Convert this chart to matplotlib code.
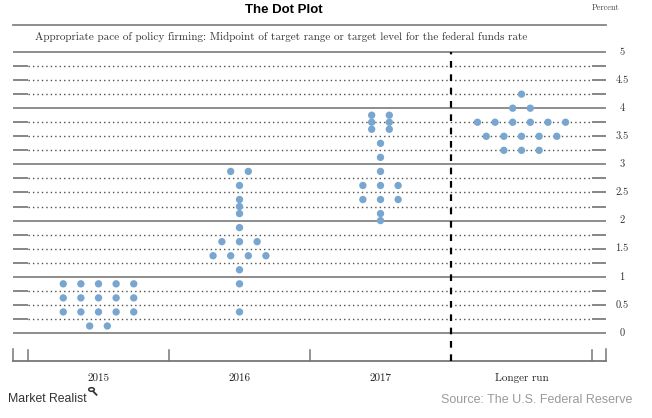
import matplotlib
matplotlib.use("Agg")
import matplotlib.pyplot as plt
import numpy as np

# ---------------- data ----------------
categories = ["2015", "2016", "2017", "Longer run"]

rates_2015 = [0.125, 0.375, 0.625, 0.875]
counts_2015 = [2, 5, 5, 5]

rates_2016 = [0.375, 0.875, 1.125, 1.375, 1.625, 1.875, 2.125, 2.25, 2.375, 2.625, 2.875]
counts_2016 = [1, 1, 1, 4, 3, 1, 1, 1, 1, 1, 2]

rates_2017 = [2.0, 2.125, 2.375, 2.625, 2.875, 3.125, 3.375, 3.625, 3.75, 3.875]
counts_2017 = [1, 1, 3, 3, 1, 1, 1, 2, 2, 2]

rates_lr = [3.25, 3.5, 3.75, 4.0, 4.25]
counts_lr = [3, 5, 6, 2, 1]

ytick_values = [0, 0.5, 1, 1.5, 2, 2.5, 3, 3.5, 4, 4.5, 5]
ytick_labels = ["0", "0.5", "1", "1.5", "2", "2.5", "3", "3.5", "4", "4.5", "5"]

title = "The Dot Plot"
subtitle = ("Appropriate pace of policy firming: Midpoint of target range "
            "or target level for the federal funds rate")
unit_label = "Percent"
source = "Source: The U.S. Federal Reserve"
brand = "Market Realist"

# ---------------- figure ----------------
W, H = 652, 418
fig = plt.figure(figsize=(W / 100, H / 100), dpi=100)
fig.patch.set_facecolor("white")

ax = fig.add_axes([13 / W, 57 / H, 593 / W, 336 / H])
x0, x1 = -0.6064, 3.5993
y0, y1 = -0.498, 5.480
ax.set_xlim(x0, x1)
ax.set_ylim(y0, y1)
ax.axis("off")

serif = "cmr10"
solid_c = "#858585"
dot_line_c = "#505050"
dot_c = "#78a6d0"

# solid integer lines
for v in range(0, 6):
    ax.plot([x0, x1], [v, v], color=solid_c, lw=1.3, clip_on=False,
            solid_capstyle="butt", zorder=1)
# top frame line and bottom axis line
ax.plot([x0, x1], [y1, y1], color=solid_c, lw=1.3, clip_on=False, zorder=1)
ax.plot([x0, x1], [y0, y0], color="#777777", lw=1.3, clip_on=False, zorder=1)

# dotted quarter lines with short solid ends
for v in np.arange(0.25, 5.0, 0.25):
    if abs(v - round(v)) < 1e-9:
        continue
    ax.plot([-0.5, 3.5], [v, v], color=dot_line_c, lw=1.0,
            linestyle=(0, (1, 2.2)), zorder=1)
    ax.plot([x0, -0.5], [v, v], color="#666666", lw=1.1, zorder=1,
            solid_capstyle="butt")
    ax.plot([3.5, x1], [v, v], color="#666666", lw=1.1, zorder=1,
            solid_capstyle="butt")

# dashed vertical separator
ax.plot([2.5, 2.5], [y0, 5.0], color="black", lw=1.6,
        linestyle=(0, (3, 3)), zorder=2, clip_on=False)

# bottom ticks
tick_h = 0.19
for xt in [x0, -0.5, 0.5, 1.5, 3.5, x1]:
    h = tick_h * (1.15 if xt in (x0, x1) else 1.0)
    ax.plot([xt, xt], [y0, y0 + h], color="#777777", lw=1.1, clip_on=False)

# dots
spacing = 0.125
all_rates = [rates_2015, rates_2016, rates_2017, rates_lr]
all_counts = [counts_2015, counts_2016, counts_2017, counts_lr]
for ci, (rates, counts) in enumerate(zip(all_rates, all_counts)):
    xs, ys = [], []
    for r, n in zip(rates, counts):
        offs = (np.arange(n) - (n - 1) / 2) * spacing
        xs.extend(ci + offs)
        ys.extend([r] * n)
    ax.scatter(xs, ys, s=28, color=dot_c, edgecolors="none", zorder=3)

# category labels
for ci, name in enumerate(categories):
    ax.text(ci, y0 - 17 / 56.2, name, ha="center", va="center",
            fontsize=8, family=serif, color="#222222")

# y labels on right
for v, lab in zip(ytick_values, ytick_labels):
    ax.text((622 - 98.5) / 141, v, lab, ha="center", va="center",
            fontsize=7.5, family=serif, color="#333333", clip_on=False)

# subtitle
ax.text(-0.6064 + 22 / 141, (333 - 37) / 56.2, subtitle, ha="left", va="center",
        fontsize=8, family=serif, color="#333333")

# title, unit, source, brand
fig.text(284 / W, 1 - 10 / H, title, ha="center", va="center",
         fontsize=9.5, fontweight="bold", family="Liberation Sans", color="black")
fig.text(606 / W, 1 - 8 / H, unit_label, ha="center", va="center",
         fontsize=6, family=serif, color="#444444")
fig.text(632 / W, 1 - 400 / H, source, ha="right", va="center",
         fontsize=9, family="Liberation Sans", color="#9a9a9a")
fig.text(8 / W, 1 - 399 / H, brand, ha="left", va="center",
         fontsize=8.8, family="Liberation Sans", color="#333333")
# small magnifier mark of the brand
fig.add_artist(matplotlib.patches.Circle((91.5 / W, 1 - 389.5 / H), 2.8 / W,
               transform=fig.transFigure, fill=False, lw=1.1,
               edgecolor="#333333"))
fig.add_artist(matplotlib.lines.Line2D([93.6 / W, 96.5 / W],
               [1 - 391.8 / H, 1 - 394.8 / H], transform=fig.transFigure,
               lw=1.3, color="#333333"))

fig.savefig("out.png", dpi=100, facecolor="white")
